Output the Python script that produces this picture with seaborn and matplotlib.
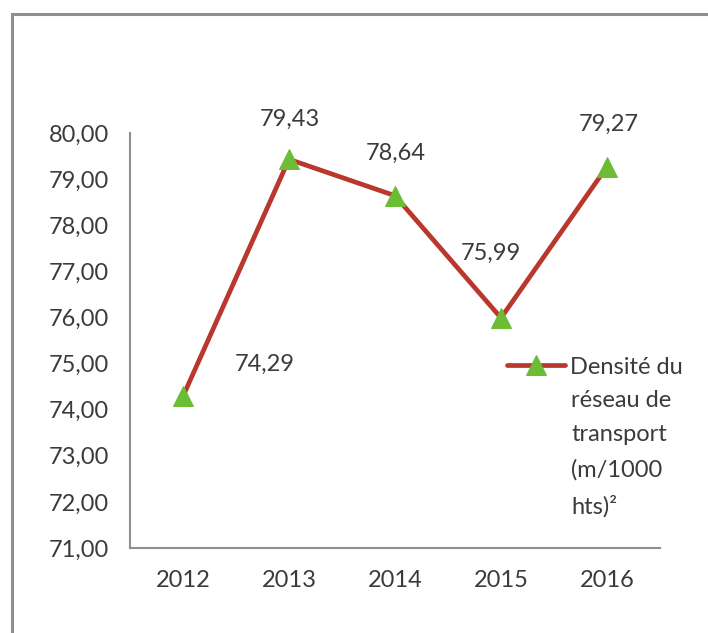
"""
plot.py
Densité du réseau de transport (m/1000 hts)², 2012-2016.
"""

import matplotlib
matplotlib.use("Agg")
import matplotlib.pyplot as plt
import matplotlib.patches as mpatches
from matplotlib.ticker import FixedLocator, FuncFormatter
import numpy as np
import pandas as pd
import seaborn as sns

# ─── data ─────────────────────────────────────────────────────────────────────
years = ["2012", "2013", "2014", "2015", "2016"]
density = [74.29, 79.43, 78.64, 75.99, 79.27]
label_lines = ["Densité du", "réseau de", "transport", "(m/1000", "hts)²"]

# ─── style ────────────────────────────────────────────────────────────────────
sns.set_style("white")
plt.rcParams["font.family"] = ["Lato", "DejaVu Sans"]
TEXT = "#3b3b3b"
AXIS = "#8c9090"
LINE = "#b9372c"
MARK = "#6cbd35"


def fr(v, _pos=None):
    return f"{v:.2f}".replace(".", ",")


df = pd.DataFrame({"year": years, "density": density})

fig = plt.figure(figsize=(7.08, 6.33), dpi=100)
ax = fig.add_axes([130 / 708, 85 / 633, 530 / 708, 415 / 633])

sns.lineplot(
    data=df, x="year", y="density", ax=ax,
    color=LINE, linewidth=3.4, marker="^", markersize=15,
    markerfacecolor=MARK, markeredgecolor=MARK, label=label_lines[0],
)

# ── value labels (pixel offsets from each point) ──────────────────────────
offsets = [(82, 32), (1, 40), (1, 42), (-10, 65), (2, 42)]
for i, (v, off) in enumerate(zip(density, offsets)):
    ax.annotate(fr(v), (i, v), xytext=off, textcoords="offset pixels",
                ha="center", va="center", fontsize=17, color=TEXT)

# ── axes ──────────────────────────────────────────────────────────────────
ax.set_ylim(71, 80)
ax.set_xlim(-0.5, len(years) - 0.5)
ax.yaxis.set_major_locator(FixedLocator(np.arange(71, 81, 1)))
ax.yaxis.set_major_formatter(FuncFormatter(fr))
ax.xaxis.set_minor_locator(FixedLocator(np.arange(-0.5, len(years), 1)))
ax.tick_params(axis="x", which="major", length=0, pad=16, labelsize=17, labelcolor=TEXT)
ax.tick_params(axis="x", which="minor", length=7, width=1.5, color=AXIS, direction="out")
ax.tick_params(axis="y", length=7, width=1.5, color=AXIS, direction="out",
               pad=8, labelsize=17, labelcolor=TEXT)
ax.set_xlabel("")
ax.set_ylabel("")
for side in ("top", "right"):
    ax.spines[side].set_visible(False)
for side in ("left", "bottom"):
    ax.spines[side].set_color(AXIS)
    ax.spines[side].set_linewidth(1.5)

# ── legend: handle on the first line, label wraps below ───────────────────
leg = ax.legend(loc="center left", bbox_to_anchor=(507 / 708, 1 - 367 / 633),
                bbox_transform=fig.transFigure, frameon=False, fontsize=17,
                handlelength=2.45, handletextpad=0.2, labelcolor=TEXT,
                borderpad=0, borderaxespad=0)
fig.text(571 / 708, 1 - 390 / 633, "\n".join(label_lines[1:]),
         ha="left", va="top", fontsize=17, color=TEXT, linespacing=1.78)

# ── scanned frame ─────────────────────────────────────────────────────────
fig.patches.append(mpatches.Rectangle(
    (12 / 708, -0.05), 1.2, 1 - 14 / 633 + 0.05, transform=fig.transFigure,
    fill=False, edgecolor=AXIS, linewidth=2.2))

fig.savefig("out.png", dpi=100)
plt.close(fig)
